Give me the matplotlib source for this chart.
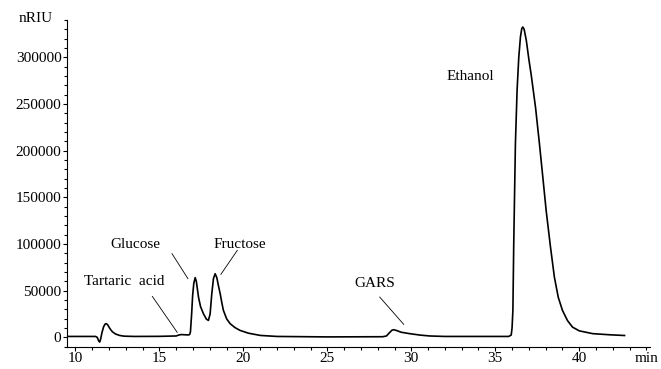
import numpy as np
import matplotlib.pyplot as plt
from matplotlib.ticker import MultipleLocator

# chromatogram trace (time in min, signal in nRIU)
time_min = [9.55, 11.20, 11.30, 11.38, 11.44, 11.50, 11.58, 11.68, 11.78, 11.84,
            11.92, 12.05, 12.20, 12.40, 12.65, 12.90, 13.50, 15.00, 16.00, 16.15,
            16.30, 16.50, 16.70, 16.80, 16.85, 16.92, 16.98, 17.05, 17.13, 17.20,
            17.33, 17.45, 17.62, 17.80, 17.92, 18.02, 18.12, 18.22, 18.32, 18.42,
            18.52, 18.62, 18.72, 18.81, 19.00, 19.21, 19.50, 19.80, 20.30, 21.00,
            22.00, 25.00, 28.30, 28.52, 28.70, 28.85, 28.95, 29.10, 29.40, 29.90,
            30.50, 31.10, 32.00, 35.80, 35.95, 36.00, 36.05, 36.10, 36.20, 36.30,
            36.40, 36.50, 36.58, 36.64, 36.72, 36.85, 37.00, 37.15, 37.40, 37.63,
            37.83, 38.03, 38.28, 38.52, 38.75, 39.00, 39.30, 39.60, 40.00, 40.80,
            41.80, 42.70]
signal = [1000, 1000, 0, -3500, -5000, -2000, 5000, 11500, 14500, 14700,
          13500, 9500, 6000, 3500, 2000, 1300, 1000, 1100, 1500, 2500,
          3000, 2800, 2600, 3000, 6000, 25000, 45000, 58000, 64000, 60000,
          43000, 33000, 25400, 19500, 18200, 25000, 46800, 63000, 68200, 64000,
          55000, 46800, 37000, 29000, 20000, 14700, 10500, 7500, 4500, 2100,
          1000, 500, 700, 1500, 5000, 7700, 8200, 7500, 5500, 4000,
          2500, 1500, 1000, 1000, 2500, 10000, 29000, 100000, 207500, 265000,
          300000, 322000, 331000, 332500, 330000, 318000, 298000, 280000, 246000, 207500,
          172000, 136000, 98000, 64600, 43000, 29000, 18000, 11000, 7000, 4000,
          2800, 2000]

# peak labels: text position and leader line (from, to)
labels = ['Tartaric  acid', 'Glucose', 'Fructose', 'GARS']
label_xy = [(12.9, 60000), (13.57, 99600), (19.8, 99600), (27.8, 57800)]
line_from = [(14.58, 43900), (15.75, 89700), (19.64, 93200), (28.12, 43200)]
line_to = [(16.06, 5400), (16.70, 62900), (18.66, 67500), (29.55, 13900)]

plt.rcParams['font.family'] = ['Liberation Serif', 'DejaVu Serif']

fig = plt.figure(figsize=(6.61, 3.69), dpi=100)
ax = fig.add_axes([0.1014, 0.0604, 0.8816, 0.8854])

ax.plot(time_min, signal, color='black', lw=1.2)

for lab, xy, a, b in zip(labels, label_xy, line_from, line_to):
    ax.text(xy[0], xy[1], lab, ha='center', va='center', fontsize=11)
    ax.plot([a[0], b[0]], [a[1], b[1]], color='black', lw=0.6)
ax.text(33.53, 279600, 'Ethanol', ha='center', va='center', fontsize=11)

ax.set_xlim(9.5, 44.2)
ax.set_ylim(-10000, 340000)
ax.xaxis.set_major_locator(MultipleLocator(5))
ax.xaxis.set_minor_locator(MultipleLocator(1))
ax.yaxis.set_major_locator(MultipleLocator(50000))
ax.yaxis.set_minor_locator(MultipleLocator(10000))
ax.tick_params(which='major', direction='out', length=3, width=0.8,
               labelsize=11, pad=1)
ax.tick_params(which='minor', direction='out', length=2, width=0.8)
for s in ['top', 'right']:
    ax.spines[s].set_visible(False)

ax.annotate('min', xy=(1, 0), xycoords='axes fraction', xytext=(-2, -4),
            textcoords='offset points', ha='center', va='top', fontsize=11)
ax.annotate('nRIU', xy=(0, 1), xycoords='axes fraction', xytext=(-10, 1),
            textcoords='offset points', ha='right', va='center', fontsize=11)

fig.savefig('out.png', dpi=100)
